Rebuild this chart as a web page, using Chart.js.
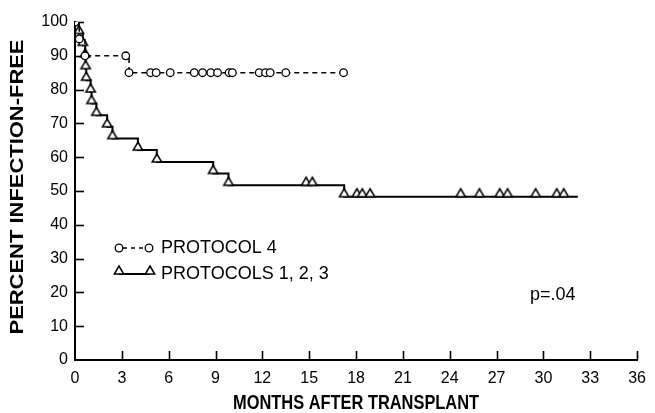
<!DOCTYPE html>
<html><head><meta charset="utf-8">
<script src="https://cdn.jsdelivr.net/npm/chart.js@4.4.0/dist/chart.umd.min.js"></script>
<style>html,body{margin:0;padding:0;background:#fff;}</style>
</head><body>
<canvas id="c" width="655" height="413"></canvas>
<script>
// ---- data ----
const xTicks = [0, 3, 6, 9, 12, 15, 18, 21, 24, 27, 30, 33, 36];
const yTicks = [0, 10, 20, 30, 40, 50, 60, 70, 80, 90, 100];

const p4Months  = [0, 0.27, 0.64, 3.25, 3.46, 4.84, 5.2, 6.1, 7.64, 8.17, 8.7, 9.13, 9.87, 10.08, 11.8, 12.2, 12.5, 13.5, 17.2];
const p4Percent = [100, 95, 90, 90, 85, 85, 85, 85, 85, 85, 85, 85, 85, 85, 85, 85, 85, 85, 85];

const p123Months  = [0, 0.25, 0.5, 0.65, 0.68, 0.72, 1.0, 1.06, 1.37, 2.06, 2.4, 4.03, 5.24, 8.85, 9.83, 14.8, 15.2, 17.24, 18.05, 18.4, 18.9, 24.7, 25.9, 27.2, 27.7, 29.5, 30.85, 31.3, 32.2];
const p123Percent = [100, 96.6, 93.1, 89.7, 86.2, 82.8, 79.3, 75.9, 72.4, 69.0, 65.5, 62.1, 58.6, 55.2, 51.7, 51.7, 51.7, 48.3, 48.3, 48.3, 48.3, 48.3, 48.3, 48.3, 48.3, 48.3, 48.3, 48.3, 48.3];

const seriesLabels = ['PROTOCOL 4', 'PROTOCOLS 1, 2, 3'];
const xTitle = 'MONTHS AFTER TRANSPLANT';
const yTitle = 'PERCENT INFECTION-FREE';
const pText = 'p=.04';

// ---- styling ----
const FONT = "'Liberation Sans', Arial, Helvetica, sans-serif";

function makeTriangle() {
  const cv = document.createElement('canvas');
  cv.width = 14; cv.height = 20;
  const c = cv.getContext('2d');
  c.fillStyle = '#fff'; c.strokeStyle = '#000'; c.lineWidth = 1.5; c.lineJoin = 'miter';
  c.beginPath(); c.moveTo(7, 2); c.lineTo(11.7, 10); c.lineTo(2.3, 10); c.closePath();
  c.fill(); c.stroke();
  return cv;
}
const triImg = makeTriangle();

const toXY = (xs, ys) => xs.map((v, i) => ({x: v, y: ys[i]}));

function stretchedText(ctx, text, cx, cy, targetLen, rotate) {
  ctx.save();
  const w = ctx.measureText(text).width;
  ctx.translate(cx, cy);
  if (rotate) ctx.rotate(-Math.PI / 2);
  ctx.scale(targetLen / w, 1);
  ctx.textAlign = 'center'; ctx.textBaseline = 'middle';
  ctx.fillText(text, 0, 0);
  ctx.restore();
}

const decor = {
  id: 'decor',
  beforeDatasetsDraw(chart) {
    const {ctx, scales: {x, y}} = chart;
    ctx.save();
    ctx.strokeStyle = '#000'; ctx.lineWidth = 1.6;
    xTicks.forEach(v => { if (v === 0) return; const px = Math.round(x.getPixelForValue(v)) + 0.5;
      ctx.beginPath(); ctx.moveTo(px, y.bottom); ctx.lineTo(px, y.bottom - 9); ctx.stroke(); });
    yTicks.forEach(v => { if (v === 0) return; const py = Math.round(y.getPixelForValue(v)) + 0.5;
      ctx.beginPath(); ctx.moveTo(x.left, py); ctx.lineTo(x.left + 9, py); ctx.stroke(); });
    ctx.restore();
  },
  afterDraw(chart) {
    const {ctx, scales: {x, y}} = chart;
    ctx.save();
    const r1 = 248, r2 = 274;
    ctx.strokeStyle = '#000'; ctx.lineWidth = 1.5;
    ctx.setLineDash([4, 4]);
    ctx.beginPath(); ctx.moveTo(123, r1); ctx.lineTo(145, r1); ctx.stroke();
    ctx.setLineDash([]);
    ctx.fillStyle = '#fff'; ctx.lineWidth = 1.3;
    [119, 149].forEach(cx => { ctx.beginPath(); ctx.arc(cx, r1, 3.8, 0, Math.PI * 2); ctx.fill(); ctx.stroke(); });
    ctx.lineWidth = 2;
    ctx.beginPath(); ctx.moveTo(119, r2); ctx.lineTo(150, r2); ctx.stroke();
    [119, 150].forEach(cx => ctx.drawImage(triImg, cx - 7, r2 - 10));
    ctx.fillStyle = '#000';
    ctx.font = '18px ' + FONT;
    ctx.textBaseline = 'middle'; ctx.textAlign = 'left';
    ctx.fillText(seriesLabels[0], 161, r1);
    ctx.fillText(seriesLabels[1], 161, r2);
    ctx.fillText(pText, 530, 295);
    // axis titles
    ctx.font = 'bold 21px ' + FONT;
    stretchedText(ctx, xTitle, (x.left + x.right) / 2, 403, 246, false);
    ctx.font = 'bold 18px ' + FONT;
    stretchedText(ctx, yTitle, 18, 187, 295, true);
    ctx.restore();
  }
};

new Chart(document.getElementById('c'), {
  type: 'line',
  data: {
    datasets: [
      {
        label: seriesLabels[0],
        data: toXY(p4Months, p4Percent),
        stepped: 'before',
        borderColor: '#000', borderWidth: 1.5, borderDash: [5, 4],
        pointStyle: 'circle', pointRadius: 3.8, pointBorderWidth: 1.3,
        pointBackgroundColor: '#fff', pointBorderColor: '#000',
        fill: false
      },
      {
        label: seriesLabels[1],
        data: toXY(p123Months, p123Percent),
        stepped: 'before',
        borderColor: '#000', borderWidth: 2,
        pointStyle: triImg,
        pointRadius: ctx => ctx.dataIndex === p123Months.length - 1 ? 0 : 7,
        fill: false
      }
    ]
  },
  options: {
    responsive: false,
    animation: false,
    devicePixelRatio: 1,
    layout: {padding: {top: 22, right: 15, bottom: 0, left: 0}},
    plugins: {legend: {display: false}, tooltip: {enabled: false}},
    scales: {
      x: {
        type: 'linear', min: 0, max: 36,
        afterBuildTicks: s => { s.ticks = xTicks.map(v => ({value: v})); },
        afterFit: s => { s.height = 53; },
        grid: {display: false, drawTicks: false},
        border: {display: true, color: '#000', width: 2},
        ticks: {color: '#000', font: {family: FONT, size: 16}, padding: 9, autoSkip: false, maxRotation: 0},
        title: {display: false}
      },
      y: {
        type: 'linear', min: 0, max: 100,
        afterBuildTicks: s => { s.ticks = yTicks.map(v => ({value: v})); },
        afterFit: s => { s.width = 75; },
        grid: {display: false, drawTicks: false},
        border: {display: true, color: '#000', width: 2},
        ticks: {color: '#000', font: {family: FONT, size: 16}, padding: 7, autoSkip: false},
        title: {display: false}
      }
    }
  },
  plugins: [decor]
});
</script>
</body></html>
